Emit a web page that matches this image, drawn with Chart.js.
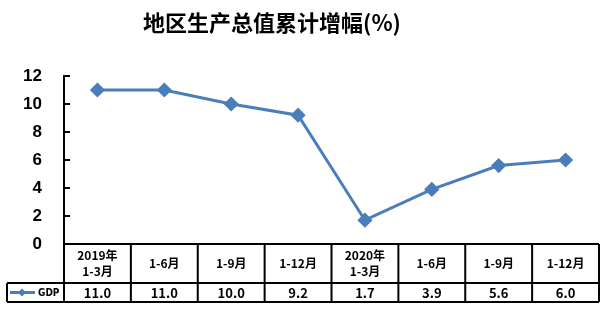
<!DOCTYPE html>
<html>
<head>
<meta charset="utf-8">
<script src="https://cdn.jsdelivr.net/npm/chart.js@4/dist/chart.umd.min.js"></script>
<style>
  html, body { margin: 0; padding: 0; background: #fff; }
  #wrap { position: relative; width: 608px; height: 310px; }
  #title {
    position: absolute; left: 0; top: 5px; width: 544px; text-align: center;
    font: bold 22px "Noto Sans CJK SC", sans-serif; color: #000;
  }
  canvas { position: absolute; left: 0; top: 0; }
</style>
</head>
<body>
<div id="wrap">
  <canvas id="gdp-chart" width="608" height="310"></canvas>
  <div id="title">地区生产总值累计增幅(%)</div>
</div>
<script>
const categories = [['2019年', '1-3月'], '1-6月', '1-9月', '1-12月', ['2020年', '1-3月'], '1-6月', '1-9月', '1-12月'];
const gdpValues = [11.0, 11.0, 10.0, 9.2, 1.7, 3.9, 5.6, 6.0];
const seriesName = 'GDP';
const yTicks = [0, 2, 4, 6, 8, 10, 12];

const BLUE = '#4a7ebb';
const CJK = '"Noto Sans CJK SC", sans-serif';

// draws the data table under the axis plus the inward tick marks
const tablePlugin = {
  id: 'dataTable',
  afterDraw(chart) {
    const ctx = chart.ctx;
    const x = chart.scales.x;
    const y = chart.scales.y;
    const area = chart.chartArea;
    const top = area.bottom;
    const mid = top + 39;
    const bottom = top + 58;
    const left = area.left;
    const right = area.right;
    const legendLeft = 7;

    ctx.save();
    ctx.strokeStyle = '#000';
    ctx.lineWidth = 2;

    // inward ticks on y axis
    yTicks.forEach(v => {
      const py = Math.round(y.getPixelForValue(v));
      ctx.beginPath();
      ctx.moveTo(left, py);
      ctx.lineTo(left + 6, py);
      ctx.stroke();
    });

    // table grid
    ctx.beginPath();
    ctx.moveTo(left, top); ctx.lineTo(right, top);
    ctx.moveTo(legendLeft, mid); ctx.lineTo(right, mid);
    ctx.moveTo(legendLeft, bottom); ctx.lineTo(right, bottom);
    ctx.moveTo(legendLeft, mid); ctx.lineTo(legendLeft, bottom);
    const step = (right - left) / categories.length;
    for (let i = 0; i <= categories.length; i++) {
      const px = left + step * i;
      ctx.moveTo(px, top); ctx.lineTo(px, bottom);
    }
    ctx.stroke();

    // header labels
    ctx.fillStyle = '#000';
    ctx.textAlign = 'center';
    ctx.textBaseline = 'middle';
    ctx.font = 'bold 12px ' + CJK;
    categories.forEach((c, i) => {
      const cx = x.getPixelForValue(i);
      const lines = Array.isArray(c) ? c : [c];
      const lh = 16;
      const y0 = (top + mid) / 2 - (lines.length - 1) * lh / 2;
      lines.forEach((t, j) => ctx.fillText(t, cx, y0 + j * lh));
    });

    // values row
    ctx.font = 'bold 13px ' + CJK;
    gdpValues.forEach((v, i) => {
      ctx.fillText(v.toFixed(1), x.getPixelForValue(i), (mid + bottom) / 2 + 1);
    });

    // legend key
    const ly = (mid + bottom) / 2;
    ctx.strokeStyle = BLUE;
    ctx.lineWidth = 3;
    ctx.beginPath();
    ctx.moveTo(10, ly); ctx.lineTo(35, ly);
    ctx.stroke();
    ctx.fillStyle = BLUE;
    ctx.beginPath();
    ctx.moveTo(22, ly - 4); ctx.lineTo(26, ly); ctx.lineTo(22, ly + 4); ctx.lineTo(18, ly);
    ctx.closePath();
    ctx.fill();
    ctx.fillStyle = '#000';
    ctx.textAlign = 'left';
    ctx.font = 'bold 10px "Liberation Sans Narrow", "DejaVu Sans Condensed", sans-serif';
    ctx.fillText(seriesName, 38, ly + 1);
    ctx.restore();
  }
};

const ctx = document.getElementById('gdp-chart').getContext('2d');
new Chart(ctx, {
  type: 'line',
  data: {
    labels: categories,
    datasets: [{
      label: seriesName,
      data: gdpValues,
      borderColor: BLUE,
      backgroundColor: BLUE,
      borderWidth: 3,
      pointStyle: 'rectRot',
      pointRadius: 5.5,
      pointHoverRadius: 5.5,
      tension: 0,
      fill: false
    }]
  },
  options: {
    responsive: false,
    animation: false,
    layout: { padding: { left: 6, right: 9, top: 76, bottom: 66 } },
    plugins: { legend: { display: false }, title: { display: false }, tooltip: { enabled: false } },
    scales: {
      x: { display: false, offset: true },
      y: {
        min: 0, max: 12,
        afterFit: s => { s.width = 58; },
        ticks: {
          stepSize: 2, padding: 22, color: '#000',
          font: { family: '"Liberation Sans", Arial, sans-serif', size: 17, weight: 'bold' }
        },
        grid: { drawOnChartArea: false, drawTicks: false },
        border: { color: '#000', width: 2 }
      }
    }
  },
  plugins: [tablePlugin]
});
</script>
</body>
</html>
